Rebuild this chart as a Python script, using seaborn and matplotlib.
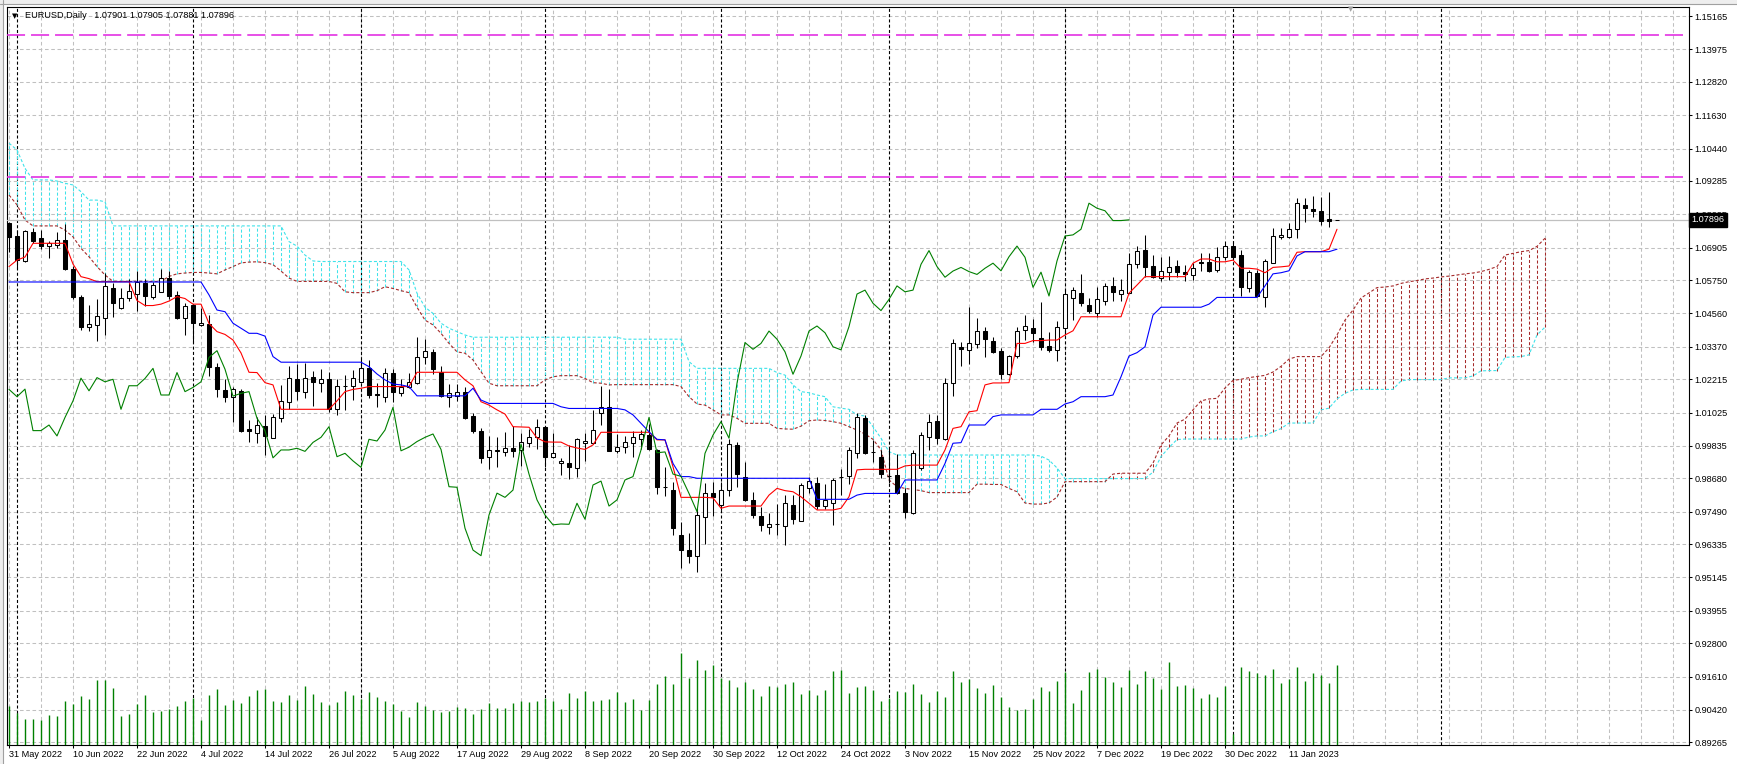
import matplotlib
matplotlib.use("Agg")
import matplotlib.pyplot as plt
from matplotlib.patches import Rectangle
import numpy as np
import pandas as pd
import seaborn as sns

sns.set_style("white")
plt.rcParams["font.family"] = ["Liberation Sans", "DejaVu Sans"]
plt.rcParams["lines.scale_dashes"] = False

SYMBOL = "EURUSD,Daily"

# daily candles, bar 0 = 31 May 2022
open_ = [
    1.0777, 1.0732, 1.0644, 1.0745, 1.0724, 1.0696, 1.0700, 1.0718, 1.0616, 1.0515,
    1.0406, 1.0414, 1.0438, 1.0548, 1.0474, 1.0510, 1.0524, 1.0566, 1.0515, 1.0533,
    1.0581, 1.0522, 1.0438, 1.0486, 1.0414, 1.0418, 1.0264, 1.0183, 1.0157, 1.0180,
    1.0043, 1.0031, 1.0055, 1.0011, 1.0082, 1.0139, 1.0221, 1.0175, 1.0228, 1.0207,
    1.0221, 1.0114, 1.0196, 1.0197, 1.0210, 1.0260, 1.0168, 1.0157, 1.0245, 1.0171,
    1.0192, 1.0209, 1.0299, 1.0317, 1.0246, 1.0157, 1.0163, 1.0177, 1.0090, 1.0037,
    0.9943, 0.9966, 0.9961, 0.9975, 0.9969, 0.9993, 1.0014, 1.0050, 0.9943, 0.9921,
    0.9921, 0.9904, 0.9993, 0.9993, 1.0100, 1.0121, 0.9966, 0.9979, 0.9995, 1.0007,
    1.0022, 0.9969, 0.9838, 0.9826, 0.9666, 0.9612, 0.9592, 0.9731, 0.9815, 0.9773,
    0.9826, 0.9987, 0.9872, 0.9791, 0.9734, 0.9693, 0.9705, 0.9698, 0.9773, 0.9717,
    0.9832, 0.9852, 0.9769, 0.9781, 0.9872, 0.9876, 0.9959, 1.0082, 0.9963, 0.9943,
    0.9876, 0.9878, 0.9814, 0.9745, 0.9904, 1.0016, 1.0073, 1.0007, 1.0207, 1.0335,
    1.0326, 1.0346, 1.0393, 1.0359, 1.0322, 1.0239, 1.0304, 1.0397, 1.0405, 1.0367,
    1.0340, 1.0326, 1.0403, 1.0510, 1.0528, 1.0486, 1.0458, 1.0501, 1.0554, 1.0524,
    1.0528, 1.0631, 1.0682, 1.0625, 1.0581, 1.0603, 1.0625, 1.0604, 1.0593, 1.0641,
    1.0638, 1.0611, 1.0658, 1.0696, 1.0664, 1.0545, 1.0599, 1.0515, 1.0637, 1.0727,
    1.0730, 1.0756, 1.0843, 1.0828, 1.0821, 1.0791, 1.07901,
]
high = [
    1.0782, 1.0753, 1.0753, 1.0761, 1.0753, 1.0714, 1.0747, 1.0774, 1.0625, 1.0522,
    1.0486, 1.0506, 1.0599, 1.0563, 1.0545, 1.0578, 1.0608, 1.0578, 1.0569, 1.0614,
    1.0608, 1.0536, 1.0492, 1.0489, 1.0474, 1.0450, 1.0280, 1.0221, 1.0195, 1.0186,
    1.0076, 1.0085, 1.0093, 1.0097, 1.0201, 1.0269, 1.0276, 1.0278, 1.0252, 1.0257,
    1.0248, 1.0221, 1.0236, 1.0254, 1.0292, 1.0290, 1.0209, 1.0260, 1.0257, 1.0221,
    1.0245, 1.0371, 1.0365, 1.0328, 1.0269, 1.0204, 1.0204, 1.0195, 1.0100, 1.0046,
    1.0019, 1.0016, 1.0033, 1.0054, 1.0028, 1.0043, 1.0078, 1.0052, 1.0031, 0.9939,
    0.9987, 1.0011, 1.0028, 1.0112, 1.0197, 1.0185, 1.0026, 1.0019, 1.0038, 1.0040,
    1.0062, 0.9971, 0.9909, 0.9856, 0.9713, 0.9672, 0.9761, 0.9850, 0.9856, 0.9856,
    1.0007, 0.9998, 0.9927, 0.9820, 0.9764, 0.9745, 0.9776, 0.9808, 0.9808, 0.9850,
    0.9874, 0.9874, 0.9848, 0.9868, 0.9900, 0.9981, 1.0100, 1.0094, 1.0005, 0.9969,
    0.9975, 0.9955, 0.9832, 0.9969, 1.0034, 1.0097, 1.0094, 1.0225, 1.0364, 1.0355,
    1.0480, 1.0438, 1.0406, 1.0373, 1.0332, 1.0308, 1.0409, 1.0450, 1.0435, 1.0498,
    1.0391, 1.0430, 1.0542, 1.0549, 1.0597, 1.0510, 1.0551, 1.0566, 1.0587, 1.0578,
    1.0670, 1.0696, 1.0736, 1.0664, 1.0656, 1.0661, 1.0646, 1.0629, 1.0637, 1.0672,
    1.0672, 1.0692, 1.0715, 1.0708, 1.0682, 1.0611, 1.0611, 1.0649, 1.0759, 1.0762,
    1.0779, 1.0866, 1.0866, 1.0875, 1.0872, 1.0890, 1.07905,
]
low = [
    1.0675, 1.0618, 1.0640, 1.0706, 1.0685, 1.0653, 1.0688, 1.0611, 1.0506, 1.0397,
    1.0394, 1.0358, 1.0379, 1.0444, 1.0472, 1.0501, 1.0466, 1.0482, 1.0509, 1.0531,
    1.0506, 1.0435, 1.0379, 1.0355, 1.0412, 1.0233, 1.0159, 1.0141, 1.0070, 1.0034,
    0.9998, 0.9995, 0.9951, 1.0010, 1.0070, 1.0114, 1.0147, 1.0153, 1.0127, 1.0177,
    1.0105, 1.0094, 1.0112, 1.0147, 1.0207, 1.0153, 1.0121, 1.0141, 1.0141, 1.0161,
    1.0189, 1.0204, 1.0276, 1.0240, 1.0157, 1.0121, 1.0145, 1.0078, 1.0031, 0.9924,
    0.9900, 0.9909, 0.9947, 0.9945, 0.9912, 0.9981, 0.9971, 0.9909, 0.9942, 0.9880,
    0.9864, 0.9874, 0.9931, 0.9990, 1.0058, 0.9965, 0.9957, 0.9957, 0.9943, 0.9971,
    0.9969, 0.9812, 0.9805, 0.9666, 0.9547, 0.9567, 0.9535, 0.9634, 0.9734, 0.9755,
    0.9805, 0.9836, 0.9788, 0.9725, 0.9681, 0.9669, 0.9666, 0.9630, 0.9705, 0.9716,
    0.9815, 0.9757, 0.9757, 0.9702, 0.9808, 0.9848, 0.9939, 0.9955, 0.9927, 0.9868,
    0.9850, 0.9812, 0.9725, 0.9741, 0.9898, 0.9969, 0.9990, 1.0005, 1.0161, 1.0269,
    1.0276, 1.0332, 1.0302, 1.0313, 1.0221, 1.0236, 1.0296, 1.0361, 1.0355, 1.0326,
    1.0320, 1.0287, 1.0379, 1.0432, 1.0482, 1.0456, 1.0442, 1.0486, 1.0501, 1.0501,
    1.0527, 1.0617, 1.0587, 1.0581, 1.0573, 1.0575, 1.0587, 1.0573, 1.0575, 1.0608,
    1.0605, 1.0605, 1.0646, 1.0649, 1.0518, 1.0533, 1.0513, 1.0480, 1.0636, 1.0720,
    1.0724, 1.0724, 1.0783, 1.0801, 1.0771, 1.0765, 1.07881,
]
close = [
    1.0730, 1.0646, 1.0750, 1.0715, 1.0696, 1.0706, 1.0717, 1.0615, 1.0515, 1.0406,
    1.0417, 1.0447, 1.0554, 1.0494, 1.0510, 1.0536, 1.0569, 1.0518, 1.0557, 1.0581,
    1.0518, 1.0441, 1.0482, 1.0423, 1.0421, 1.0264, 1.0185, 1.0159, 1.0186, 1.0038,
    1.0038, 1.0058, 1.0019, 1.0085, 1.0144, 1.0225, 1.0180, 1.0227, 1.0212, 1.0221,
    1.0114, 1.0198, 1.0198, 1.0224, 1.0260, 1.0165, 1.0165, 1.0245, 1.0177, 1.0192,
    1.0212, 1.0299, 1.0323, 1.0257, 1.0161, 1.0171, 1.0177, 1.0082, 1.0038, 0.9941,
    0.9969, 0.9969, 0.9975, 0.9964, 0.9996, 1.0014, 1.0052, 0.9945, 0.9957, 0.9930,
    0.9907, 1.0007, 1.0001, 1.0040, 1.0121, 0.9966, 0.9979, 0.9999, 1.0014, 1.0026,
    0.9971, 0.9838, 0.9836, 0.9690, 0.9612, 0.9592, 0.9737, 0.9815, 0.9800, 0.9826,
    0.9990, 0.9883, 0.9791, 0.9737, 0.9702, 0.9705, 0.9704, 0.9779, 0.9722, 0.9844,
    0.9858, 0.9769, 0.9791, 0.9862, 0.9874, 0.9969, 1.0085, 0.9959, 0.9962, 0.9883,
    0.9875, 0.9814, 0.9749, 0.9957, 1.0022, 1.0070, 1.0011, 1.0207, 1.0352, 1.0328,
    1.0349, 1.0393, 1.0364, 1.0319, 1.0239, 1.0304, 1.0393, 1.0411, 1.0387, 1.0337,
    1.0326, 1.0409, 1.0525, 1.0539, 1.0492, 1.0466, 1.0506, 1.0554, 1.0533, 1.0539,
    1.0631, 1.0680, 1.0623, 1.0585, 1.0607, 1.0620, 1.0605, 1.0595, 1.0617, 1.0635,
    1.0608, 1.0658, 1.0696, 1.0656, 1.0549, 1.0603, 1.0518, 1.0643, 1.0732, 1.0736,
    1.0756, 1.0849, 1.0831, 1.0822, 1.0787, 1.0787, 1.07896,
]
tick_volume = [
    39, 32, 26, 26, 25, 30, 29, 44, 41, 49, 46, 65, 65, 57, 29, 31, 41, 50, 33, 34,
    36, 39, 44, 47, 25, 50, 56, 40, 45, 42, 49, 55, 56, 44, 43, 50, 45, 59, 51, 43,
    40, 43, 54, 50, 46, 53, 48, 44, 41, 34, 28, 43, 39, 35, 33, 34, 38, 37, 31, 36,
    42, 37, 37, 42, 44, 43, 44, 47, 44, 36, 52, 47, 54, 44, 45, 46, 53, 43, 46, 35,
    45, 61, 69, 61, 92, 67, 85, 75, 80, 67, 65, 58, 63, 56, 49, 59, 58, 61, 63, 51,
    55, 50, 55, 74, 75, 52, 58, 59, 55, 44, 47, 54, 53, 61, 51, 43, 54, 48, 74, 63,
    66, 57, 52, 60, 48, 38, 35, 36, 46, 58, 54, 64, 73, 42, 55, 73, 76, 68, 63, 58,
    75, 61, 74, 67, 56, 83, 59, 60, 57, 47, 51, 48, 59, 11, 78, 74, 72, 70, 76, 62,
    66, 78, 64, 72, 70, 62, 80,
]

# Ichimoku lines as drawn on the chart
tenkan = [
    1.0623, 1.0646, 1.0657, 1.0706, 1.0706, 1.0706, 1.0706, 1.0706, 1.0632, 1.0587,
    1.0580, 1.0569, 1.0569, 1.0569, 1.0569, 1.0569, 1.0502, 1.0484, 1.0484, 1.0489,
    1.0500, 1.0516, 1.0509, 1.0489, 1.0489, 1.0420, 1.0391, 1.0381, 1.0361, 1.0315,
    1.0246, 1.0245, 1.0209, 1.0201, 1.0114, 1.0114, 1.0114, 1.0114, 1.0114, 1.0114,
    1.0114, 1.0144, 1.0177, 1.0185, 1.0189, 1.0195, 1.0195, 1.0195, 1.0195, 1.0195,
    1.0195, 1.0246, 1.0246, 1.0246, 1.0246, 1.0246, 1.0246, 1.0219, 1.0198, 1.0141,
    1.0129, 1.0112, 1.0097, 1.0052, 1.0051, 1.0050, 1.0012, 0.9998, 0.9997, 0.9997,
    0.9983, 0.9976, 0.9971, 0.9987, 1.0032, 1.0032, 1.0032, 1.0032, 1.0032, 1.0032,
    1.0032, 1.0005, 1.0005, 0.9909, 0.9800, 0.9800, 0.9800, 0.9800, 0.9798, 0.9761,
    0.9769, 0.9769, 0.9769, 0.9769, 0.9769, 0.9808, 0.9832, 0.9824, 0.9820, 0.9802,
    0.9779, 0.9755, 0.9755, 0.9755, 0.9761, 0.9802, 0.9898, 0.9900, 0.9900, 0.9900,
    0.9900, 0.9900, 0.9912, 0.9915, 0.9915, 0.9915, 0.9915, 0.9969, 1.0046, 1.0052,
    1.0105, 1.0109, 1.0201, 1.0208, 1.0208, 1.0209, 1.0349, 1.0349, 1.0359, 1.0359,
    1.0361, 1.0361, 1.0379, 1.0394, 1.0444, 1.0444, 1.0444, 1.0444, 1.0444, 1.0444,
    1.0528, 1.0557, 1.0587, 1.0587, 1.0587, 1.0587, 1.0587, 1.0587, 1.0635, 1.0650,
    1.0650, 1.0640, 1.0640, 1.0646, 1.0617, 1.0617, 1.0614, 1.0601, 1.0620, 1.0622,
    1.0625, 1.0674, 1.0676, 1.0676, 1.0676, 1.0685, 1.0756,
]
kijun = [
    1.0568, 1.0568, 1.0568, 1.0568, 1.0568, 1.0568, 1.0568, 1.0568, 1.0568, 1.0568,
    1.0568, 1.0568, 1.0568, 1.0568, 1.0568, 1.0568, 1.0568, 1.0568, 1.0568, 1.0568,
    1.0568, 1.0568, 1.0568, 1.0568, 1.0568, 1.0522, 1.0468, 1.0462, 1.0421, 1.0403,
    1.0385, 1.0385, 1.0375, 1.0302, 1.0282, 1.0282, 1.0282, 1.0282, 1.0282, 1.0282,
    1.0282, 1.0282, 1.0282, 1.0282, 1.0282, 1.0266, 1.0240, 1.0219, 1.0204, 1.0201,
    1.0195, 1.0162, 1.0162, 1.0162, 1.0162, 1.0162, 1.0162, 1.0162, 1.0189, 1.0147,
    1.0135, 1.0135, 1.0135, 1.0135, 1.0135, 1.0135, 1.0135, 1.0135, 1.0135, 1.0123,
    1.0117, 1.0117, 1.0117, 1.0117, 1.0117, 1.0117, 1.0117, 1.0112, 1.0094, 1.0064,
    1.0034, 1.0007, 1.0005, 0.9921, 0.9874, 0.9874, 0.9868, 0.9868, 0.9868, 0.9868,
    0.9868, 0.9868, 0.9868, 0.9868, 0.9868, 0.9868, 0.9868, 0.9868, 0.9868, 0.9868,
    0.9868, 0.9793, 0.9793, 0.9793, 0.9793, 0.9793, 0.9808, 0.9814, 0.9814, 0.9814,
    0.9814, 0.9814, 0.9862, 0.9862, 0.9862, 0.9862, 0.9862, 0.9921, 0.9993, 0.9995,
    1.0058, 1.0058, 1.0058, 1.0088, 1.0094, 1.0094, 1.0094, 1.0094, 1.0094, 1.0114,
    1.0114, 1.0114, 1.0133, 1.0141, 1.0159, 1.0159, 1.0159, 1.0159, 1.0165, 1.0230,
    1.0304, 1.0316, 1.0337, 1.0450, 1.0478, 1.0478, 1.0478, 1.0478, 1.0478, 1.0478,
    1.0489, 1.0513, 1.0513, 1.0513, 1.0513, 1.0513, 1.0513, 1.0554, 1.0597, 1.0601,
    1.0608, 1.0661, 1.0676, 1.0676, 1.0676, 1.0676, 1.0685,
]
# Senkou spans (already shifted 26 bars ahead)
span_a = [
    1.1063, 1.1039, 1.0973, 1.0932, 1.0932, 1.0932, 1.0928, 1.0920, 1.0914, 1.0890,
    1.0860, 1.0860, 1.0854, 1.0768, 1.0768, 1.0768, 1.0768, 1.0768, 1.0768, 1.0768,
    1.0768, 1.0768, 1.0768, 1.0768, 1.0768, 1.0768, 1.0768, 1.0768, 1.0768, 1.0768,
    1.0768, 1.0768, 1.0768, 1.0768, 1.0768, 1.0712, 1.0696, 1.0664, 1.0643, 1.0641,
    1.0641, 1.0641, 1.0641, 1.0641, 1.0641, 1.0641, 1.0641, 1.0641, 1.0641, 1.0641,
    1.0611, 1.0528, 1.0478, 1.0456, 1.0421, 1.0403, 1.0391, 1.0379, 1.0371, 1.0371,
    1.0371, 1.0371, 1.0371, 1.0371, 1.0371, 1.0371, 1.0371, 1.0371, 1.0371, 1.0371,
    1.0371, 1.0371, 1.0371, 1.0371, 1.0371, 1.0371, 1.0371, 1.0364, 1.0364, 1.0364,
    1.0364, 1.0364, 1.0364, 1.0364, 1.0364, 1.0284, 1.0260, 1.0260, 1.0260, 1.0260,
    1.0260, 1.0260, 1.0260, 1.0260, 1.0260, 1.0260, 1.0245, 1.0236, 1.0201, 1.0177,
    1.0173, 1.0165, 1.0159, 1.0123, 1.0118, 1.0114, 1.0094, 1.0090, 1.0052, 1.0011,
    0.9963, 0.9951, 0.9951, 0.9951, 0.9951, 0.9951, 0.9951, 0.9951, 0.9951, 0.9951,
    0.9951, 0.9951, 0.9951, 0.9951, 0.9951, 0.9951, 0.9951, 0.9951, 0.9951, 0.9947,
    0.9933, 0.9905, 0.9867, 0.9867, 0.9867, 0.9867, 0.9867, 0.9867, 0.9867, 0.9867,
    0.9867, 0.9867, 0.9867, 0.9890, 0.9945, 0.9978, 1.0006, 1.0008, 1.0008, 1.0008,
    1.0008, 1.0008, 1.0008, 1.0008, 1.0008, 1.0015, 1.0019, 1.0019, 1.0034, 1.0045,
    1.0065, 1.0065, 1.0065, 1.0065, 1.0112, 1.0118, 1.0151, 1.0171, 1.0183, 1.0185,
    1.0185, 1.0185, 1.0185, 1.0185, 1.0215, 1.0220, 1.0220, 1.0220, 1.0220, 1.0220,
    1.0226, 1.0226, 1.0226, 1.0233, 1.0251, 1.0252, 1.0252, 1.0299, 1.0301, 1.0302,
    1.0308, 1.0379, 1.0407,
]
span_b = [
    1.0878, 1.0843, 1.0789, 1.0768, 1.0768, 1.0768, 1.0768, 1.0753, 1.0729, 1.0688,
    1.0658, 1.0623, 1.0593, 1.0570, 1.0570, 1.0570, 1.0570, 1.0570, 1.0570, 1.0570,
    1.0588, 1.0597, 1.0600, 1.0602, 1.0602, 1.0600, 1.0597, 1.0611, 1.0623, 1.0636,
    1.0639, 1.0640, 1.0637, 1.0630, 1.0607, 1.0582, 1.0570, 1.0570, 1.0570, 1.0570,
    1.0570, 1.0563, 1.0533, 1.0530, 1.0530, 1.0530, 1.0537, 1.0551, 1.0545, 1.0537,
    1.0530, 1.0478, 1.0432, 1.0415, 1.0385, 1.0349, 1.0319, 1.0314, 1.0290, 1.0248,
    1.0207, 1.0198, 1.0198, 1.0198, 1.0198, 1.0198, 1.0198, 1.0219, 1.0230, 1.0234,
    1.0234, 1.0234, 1.0224, 1.0209, 1.0207, 1.0201, 1.0202, 1.0202, 1.0202, 1.0202,
    1.0202, 1.0202, 1.0202, 1.0202, 1.0195, 1.0159, 1.0133, 1.0129, 1.0112, 1.0094,
    1.0094, 1.0082, 1.0064, 1.0064, 1.0064, 1.0064, 1.0046, 1.0044, 1.0043, 1.0054,
    1.0073, 1.0076, 1.0074, 1.0070, 1.0064, 1.0052, 1.0040, 1.0026, 1.0007, 0.9969,
    0.9862, 0.9838, 0.9832, 0.9828, 0.9824, 0.9817, 0.9817, 0.9817, 0.9817, 0.9817,
    0.9817, 0.9847, 0.9847, 0.9846, 0.9846, 0.9832, 0.9820, 0.9780, 0.9776, 0.9776,
    0.9780, 0.9801, 0.9856, 0.9856, 0.9856, 0.9856, 0.9856, 0.9856, 0.9883, 0.9886,
    0.9886, 0.9886, 0.9886, 0.9922, 0.9987, 1.0019, 1.0065, 1.0079, 1.0112, 1.0144,
    1.0151, 1.0153, 1.0190, 1.0217, 1.0221, 1.0227, 1.0231, 1.0235, 1.0247, 1.0267,
    1.0293, 1.0302, 1.0302, 1.0302, 1.0302, 1.0333, 1.0379, 1.0432, 1.0468, 1.0511,
    1.0529, 1.0548, 1.0550, 1.0554, 1.0563, 1.0569, 1.0573, 1.0579, 1.0582, 1.0586,
    1.0589, 1.0593, 1.0597, 1.0600, 1.0605, 1.0613, 1.0623, 1.0664, 1.0670, 1.0676,
    1.0680, 1.0695, 1.0724,
]
CHIKOU_SHIFT = 26

price_ticks = [
    1.15165, 1.13975, 1.12820, 1.11630, 1.10440, 1.09285, 1.08095, 1.06905,
    1.05750, 1.04560, 1.03370, 1.02215, 1.01025, 0.99835, 0.98680, 0.97490,
    0.96335, 0.95145, 0.93955, 0.92800, 0.91610, 0.90420, 0.89265,
]
date_ticks = [0, 8, 16, 24, 32, 40, 48, 56, 64, 72, 80, 88, 96, 104, 112, 120,
              128, 136, 144, 152, 160]
date_labels = [
    "31 May 2022", "10 Jun 2022", "22 Jun 2022", "4 Jul 2022", "14 Jul 2022",
    "26 Jul 2022", "5 Aug 2022", "17 Aug 2022", "29 Aug 2022", "8 Sep 2022",
    "20 Sep 2022", "30 Sep 2022", "12 Oct 2022", "24 Oct 2022", "3 Nov 2022",
    "15 Nov 2022", "25 Nov 2022", "7 Dec 2022", "19 Dec 2022", "30 Dec 2022",
    "11 Jan 2023",
]
month_starts = [1, 23, 44, 67, 89, 110, 132, 153, 179]
levels = [1.14488, 1.09413]

# colours
CYAN = "#3fe3ea"
BROWN = "#a52a2a"
GRID = "#c0c0c0"
MAGENTA = "#e020e0"
DOT = (0, (2.2, 1.5))

W, H = 1737, 764
fig = plt.figure(figsize=(W / 100, H / 100), dpi=100, facecolor="white")
ax = fig.add_axes([7 / W, 19 / H, 1682 / W, 738 / H])
YLO, YHI = 0.89169, 1.15486
XLO, XHI = -0.25, 210.0

# grid + period separators
ax.hlines(price_ticks, XLO, XHI, colors=GRID, lw=0.75, linestyles=(0, (2.6, 1.9)), zorder=0)
ax.vlines(np.arange(0, 212, 4), YLO, YHI, colors=GRID, lw=0.75, linestyles=(0, (2.6, 1.9)), zorder=0)
ax.vlines(month_starts, YLO, YHI, colors="black", lw=0.8, linestyles=(0, (2.2, 1.6)), zorder=1)

# kumo
cloud = pd.DataFrame({"bar": np.arange(len(span_a)), "a": span_a, "b": span_b})
up = cloud["a"] >= cloud["b"]
ax.vlines(cloud["bar"][up], cloud["b"][up], cloud["a"][up], colors=CYAN, lw=0.75, linestyles=DOT, zorder=2)
ax.vlines(cloud["bar"][~up], cloud["a"][~up], cloud["b"][~up], colors=BROWN, lw=0.75, linestyles=DOT, zorder=2)
sns.lineplot(data=cloud, x="bar", y="a", ax=ax, color=CYAN, lw=0.8, linestyle=DOT, zorder=3)
sns.lineplot(data=cloud, x="bar", y="b", ax=ax, color=BROWN, lw=0.8, linestyle=DOT, zorder=3)

# horizontal levels and current price
ax.hlines(levels, XLO, 209.25, colors=MAGENTA, lw=1.1, linestyles=(0, (13, 4.3)), zorder=3)
ax.axhline(close[-1], color="#c0c0c0", lw=0.9, zorder=3)

# candles
bars = np.arange(len(close))
o, h, l, c = (np.array(v) for v in (open_, high, low, close))
ax.vlines(bars, l, h, colors="black", lw=0.75, zorder=5)
ax.bar(bars, np.abs(c - o), bottom=np.minimum(o, c), width=0.55,
       color=np.where(c >= o, "white", "black"), edgecolor="black", linewidth=0.75, zorder=6)

# tenkan / kijun / chikou
lines = pd.DataFrame({"bar": bars, "tenkan": tenkan, "kijun": kijun})
sns.lineplot(data=lines, x="bar", y="tenkan", ax=ax, color="#ff0000", lw=0.8, zorder=7)
sns.lineplot(data=lines, x="bar", y="kijun", ax=ax, color="#0000ff", lw=0.8, zorder=7)
chikou = pd.DataFrame({"bar": bars[:-CHIKOU_SHIFT], "chikou": close[CHIKOU_SHIFT:]})
sns.lineplot(data=chikou, x="bar", y="chikou", ax=ax, color="#008000", lw=0.8, zorder=7)

ax.set_xlim(XLO, XHI)
ax.set_ylim(YLO, YHI)
ax.set_xlabel("")
ax.set_ylabel("")

# volumes at the bottom of the main window
axv = ax.twinx()
axv.vlines(bars, 0, tick_volume, colors="#008000", lw=1.0)
axv.set_ylim(0, 738)
axv.set_xlim(XLO, XHI)
axv.set_yticks([])
for s in axv.spines.values():
    s.set_visible(False)

# axes cosmetics
for s in ax.spines.values():
    s.set_color("black")
    s.set_linewidth(0.8)
ax.yaxis.tick_right()
ax.set_yticks(price_ticks)
ax.set_yticklabels([f"{v:.5f}" for v in price_ticks])
ax.tick_params(axis="y", right=True, left=False, direction="out", length=2.4,
               width=0.75, pad=1.5, labelsize=6.6, colors="black")
ax.set_xticks(date_ticks)
ax.set_xticklabels(date_labels)
ax.tick_params(axis="x", bottom=True, direction="out", length=2.4, width=0.75,
               pad=1.4, labelsize=6.6, colors="black")
for t in ax.get_xticklabels():
    t.set_ha("left")

ax.text(1.0013, close[-1], f"{close[-1]:.5f}", transform=ax.get_yaxis_transform(),
        ha="left", va="center", fontsize=6.6, color="white", zorder=20, clip_on=False,
        bbox=dict(boxstyle="square,pad=0.28", fc="black", ec="black"))

# chart header
fig.text(15 / W, 1 - 16 / H, "\u25bc", fontsize=5, ha="center", va="center",
         family=["DejaVu Sans"], color="black")
fig.text(25 / W, 1 - 16 / H,
         f"{SYMBOL}   {open_[-1]:.5f} {high[-1]:.5f} {low[-1]:.5f} {close[-1]:.5f}",
         fontsize=6.6, ha="left", va="center", color="black")
fig.text(1351 / W, 1 - 9 / H, "\u25bc", fontsize=5, ha="center", va="center",
         family=["DejaVu Sans"], color="#a0a0a0")

# window frame remnants
fig.patches.append(Rectangle((0, 1 - 4 / H), 1, 4 / H, transform=fig.transFigure,
                             fc="#eeeeee", ec="none", zorder=0))
fig.patches.append(Rectangle((0, 0), 3 / W, 1, transform=fig.transFigure,
                             fc="#eeeeee", ec="none", zorder=0))
fig.lines.append(plt.Line2D([0, 1], [1 - 4 / H, 1 - 4 / H], transform=fig.transFigure,
                            color="#a0a0a0", lw=0.8))
fig.lines.append(plt.Line2D([3 / W, 3 / W], [0, 1], transform=fig.transFigure,
                            color="#a0a0a0", lw=0.8))

fig.savefig("out.png", dpi=100, facecolor="white")
